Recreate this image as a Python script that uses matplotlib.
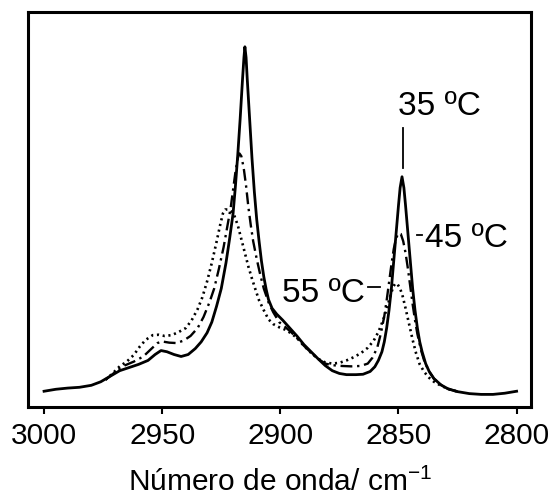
import matplotlib
matplotlib.use('Agg')
import matplotlib.pyplot as plt

plt.rcParams['font.family'] = ['Liberation Sans', 'DejaVu Sans']
plt.rcParams['mathtext.fontset'] = 'custom'
plt.rcParams['mathtext.rm'] = 'Liberation Sans'

# espectros IR (absorbancia, unidades arbitrarias)
wn_35 = [3000, 2995, 2990, 2985, 2980, 2976, 2972, 2968, 2964, 2960, 2956, 2953, 2950.5,
         2948, 2945, 2942, 2939, 2936, 2933.5, 2931, 2929, 2927, 2925, 2923, 2921.5, 2920,
         2919, 2918, 2917, 2916, 2915.4, 2915, 2914.5, 2914, 2913, 2912, 2911, 2910, 2909,
         2908, 2907, 2906, 2905, 2903.5, 2901.5, 2899, 2896, 2893, 2890, 2887, 2884, 2881,
         2878, 2875, 2872, 2868, 2865, 2862, 2860, 2858.5, 2857, 2856, 2855, 2854, 2853,
         2852, 2851, 2850, 2849.3, 2848.5, 2847.7, 2847, 2846, 2845, 2844, 2843, 2842, 2841,
         2840, 2838.5, 2837, 2835, 2832, 2829, 2825, 2820, 2815, 2810, 2805, 2800]
abs_35 = [0.040, 0.045, 0.048, 0.050, 0.055, 0.064, 0.078, 0.092, 0.100, 0.108, 0.118, 0.133,
          0.143, 0.140, 0.133, 0.128, 0.133, 0.148, 0.165, 0.188, 0.215, 0.255, 0.300, 0.365,
          0.425, 0.490, 0.560, 0.640, 0.730, 0.830, 0.885, 0.912, 0.885, 0.830, 0.730, 0.630,
          0.545, 0.475, 0.420, 0.370, 0.330, 0.298, 0.272, 0.250, 0.235, 0.220, 0.200, 0.180,
          0.158, 0.140, 0.122, 0.105, 0.092, 0.085, 0.082, 0.082, 0.083, 0.090, 0.102, 0.118,
          0.140, 0.165, 0.200, 0.245, 0.300, 0.370, 0.440, 0.510, 0.555, 0.583, 0.555, 0.510,
          0.440, 0.370, 0.300, 0.245, 0.200, 0.165, 0.140, 0.110, 0.090, 0.072, 0.056, 0.046,
          0.039, 0.034, 0.032, 0.032, 0.035, 0.040]

wn_45 = [2974, 2970, 2966, 2962, 2958, 2955, 2952, 2950, 2947, 2944, 2941, 2938, 2935,
         2932.5, 2930, 2928, 2926, 2924, 2922.5, 2921, 2920, 2919, 2918, 2917.3, 2916.5,
         2915.5, 2914.5, 2913.5, 2912.5, 2911.5, 2910, 2908.5, 2907, 2905, 2903, 2900.5,
         2898, 2895.5, 2893, 2890, 2887, 2884, 2881, 2878, 2874, 2870, 2866, 2863, 2861,
         2859, 2857.5, 2856, 2855, 2854, 2853, 2852, 2851, 2850, 2849, 2848, 2847, 2846,
         2845, 2844, 2843, 2842, 2840.5, 2839, 2837, 2835, 2832, 2829, 2825]
abs_45 = [0.069, 0.088, 0.105, 0.115, 0.128, 0.145, 0.162, 0.166, 0.163, 0.162, 0.168, 0.180,
          0.200, 0.228, 0.265, 0.300, 0.350, 0.405, 0.455, 0.505, 0.550, 0.595, 0.630, 0.642,
          0.635, 0.605, 0.560, 0.505, 0.460, 0.420, 0.375, 0.335, 0.300, 0.265, 0.240, 0.215,
          0.203, 0.190, 0.175, 0.155, 0.138, 0.122, 0.110, 0.106, 0.104, 0.103, 0.104, 0.110,
          0.125, 0.150, 0.185, 0.230, 0.270, 0.315, 0.360, 0.400, 0.428, 0.440, 0.438, 0.420,
          0.390, 0.350, 0.305, 0.260, 0.220, 0.185, 0.145, 0.115, 0.090, 0.072, 0.056, 0.046,
          0.039]

wn_55 = [2974, 2971, 2968, 2965, 2962, 2959.5, 2957, 2954, 2951.5, 2949, 2946, 2943, 2940,
         2937.5, 2935, 2933, 2931, 2929, 2927, 2925.5, 2924.3, 2923.3, 2922, 2920.8, 2919.5,
         2918, 2916.5, 2915, 2913.5, 2912, 2910.5, 2909, 2907, 2905, 2903, 2900.5, 2898,
         2895.5, 2893, 2890, 2887, 2884, 2881, 2878, 2875, 2872, 2869, 2866, 2863, 2860.5,
         2858.5, 2856.5, 2855, 2853.5, 2852.2, 2851.3, 2850.3, 2849.3, 2848.2, 2847, 2845.5,
         2844, 2842.5, 2841, 2839, 2837, 2835, 2832, 2829, 2825]
abs_55 = [0.069, 0.085, 0.103, 0.115, 0.132, 0.153, 0.170, 0.182, 0.183, 0.180, 0.182, 0.190,
          0.200, 0.220, 0.248, 0.278, 0.318, 0.365, 0.418, 0.460, 0.490, 0.500, 0.500, 0.495,
          0.485, 0.460, 0.425, 0.390, 0.355, 0.325, 0.297, 0.270, 0.245, 0.222, 0.210, 0.202,
          0.196, 0.187, 0.175, 0.155, 0.137, 0.122, 0.113, 0.110, 0.112, 0.118, 0.126, 0.136,
          0.150, 0.168, 0.190, 0.220, 0.248, 0.280, 0.305, 0.313, 0.310, 0.300, 0.280, 0.250,
          0.210, 0.170, 0.135, 0.108, 0.088, 0.074, 0.064, 0.054, 0.046, 0.039]

fig = plt.figure(figsize=(5.51, 4.97), dpi=100)
ax = fig.add_axes([0.0508, 0.181, 0.9138, 0.7948])

ax.plot(wn_35, abs_35, color='black', lw=2.0, solid_joinstyle='round')
ax.plot(wn_45, abs_45, color='black', lw=1.7, linestyle=(0, (5, 2, 1, 2)))
ax.plot(wn_55, abs_55, color='black', lw=1.9, linestyle=(0, (0.8, 1.4)))

# etiquetas de temperatura
ax.plot([2848.0, 2848.0], [0.605, 0.706], color='black', lw=1.3)
ax.text(2850.2, 0.739, '35 ºC', fontsize=24, ha='left', va='baseline')
ax.plot([2842.3, 2840.2], [0.435, 0.435], color='black', lw=1.3)
ax.text(2838.8, 0.405, '45 ºC', fontsize=24, ha='left', va='baseline')
ax.plot([2862.9, 2857.9], [0.304, 0.304], color='black', lw=1.3)
ax.text(2864.2, 0.266, '55 ºC', fontsize=24, ha='right', va='baseline')

ax.set_xlim(3006.8, 2793.7)
ax.set_ylim(0, 1)
ax.set_xticks([3000, 2950, 2900, 2850, 2800])
ax.set_yticks([])
ax.tick_params(axis='x', direction='out', length=5, width=1.5, pad=6, labelsize=21.5)
for s in ax.spines.values():
    s.set_linewidth(2.2)
ax.set_xlabel('Número de onda/ cm$^{-1}$', fontsize=21.5, labelpad=12)

fig.savefig('out.png', dpi=100)
